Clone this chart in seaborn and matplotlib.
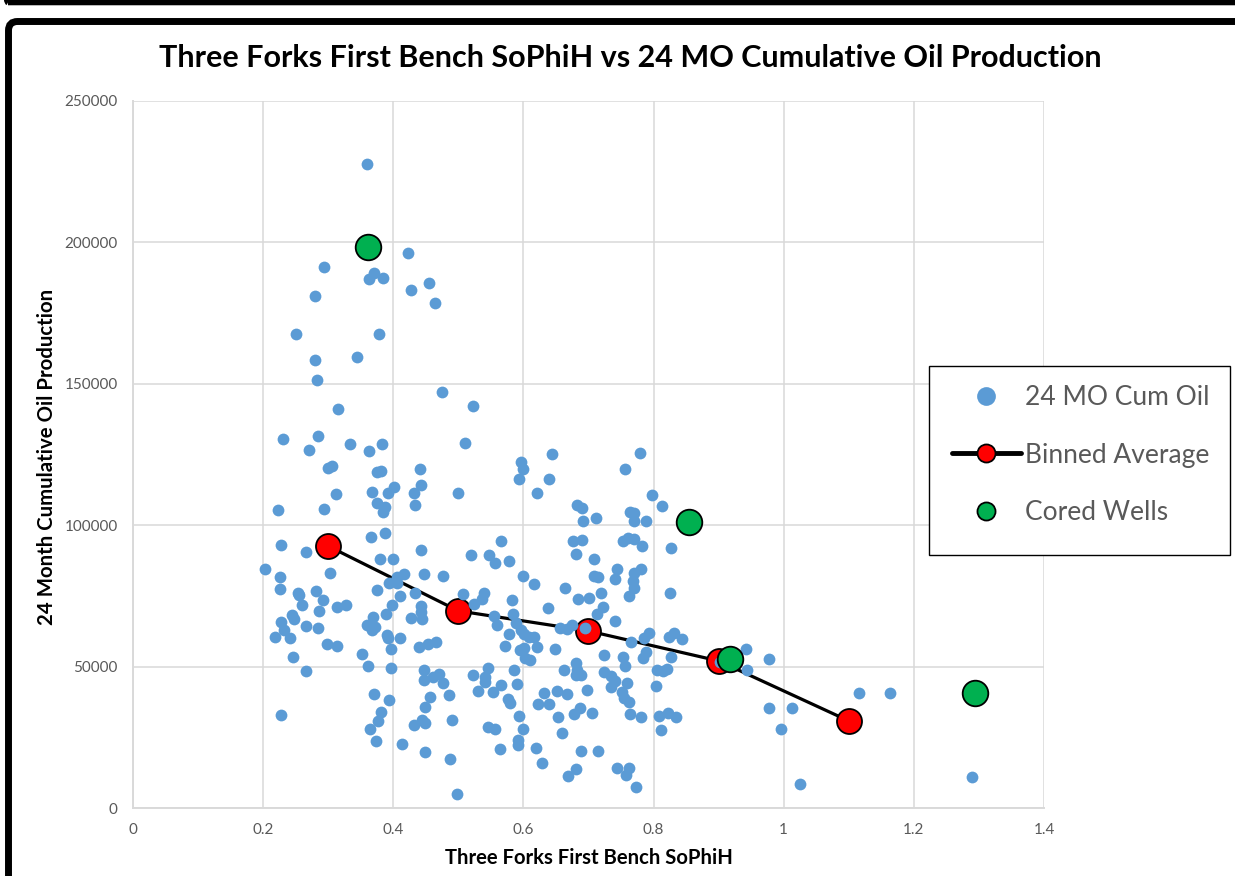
import matplotlib
matplotlib.use("Agg")
import matplotlib.pyplot as plt
import matplotlib.ticker as mticker
from matplotlib.lines import Line2D
from matplotlib.patches import FancyBboxPatch, Rectangle
from matplotlib.transforms import IdentityTransform
import seaborn as sns
import pandas as pd

# Individual wells: First Bench SoPhiH vs 24-month cumulative oil (bbl)
sophih = [
    0.360, 0.294, 0.370, 0.363, 0.384, 0.423, 0.427, 0.455, 0.464, 0.280,
    0.251, 0.378, 0.280, 0.344, 0.283, 0.475, 0.315, 0.231, 0.284, 0.271,
    0.334, 0.363, 0.383, 0.300, 0.306, 0.375, 0.381, 0.441, 0.523, 0.510,
    0.596, 0.600, 0.644, 0.779, 0.756, 0.593, 0.640, 0.401, 0.367, 0.392,
    0.443, 0.432, 0.312, 0.223, 0.294, 0.375, 0.387, 0.384, 0.434, 0.366,
    0.387, 0.443, 0.228, 0.266, 0.203, 0.303, 0.380, 0.400, 0.226, 0.226,
    0.254, 0.255, 0.281, 0.292, 0.260, 0.286, 0.314, 0.327, 0.375, 0.394,
    0.406, 0.417, 0.406, 0.410, 0.398, 0.447, 0.477, 0.434, 0.443, 0.443,
    0.444, 0.427, 0.389, 0.369, 0.360, 0.372, 0.367, 0.244, 0.248, 0.228,
    0.232, 0.218, 0.241, 0.266, 0.284, 0.298, 0.314, 0.390, 0.392, 0.410,
    0.397, 0.440, 0.453, 0.466, 0.246, 0.352, 0.361, 0.397, 0.266, 0.447,
    0.447, 0.461, 0.470, 0.477, 0.370, 0.394, 0.457, 0.449, 0.381, 0.377,
    0.364, 0.374, 0.228, 0.414, 0.432, 0.444, 0.449, 0.449, 0.500, 0.621,
    0.798, 0.813, 0.683, 0.690, 0.692, 0.712, 0.764, 0.770, 0.770, 0.789,
    0.566, 0.520, 0.547, 0.557, 0.578, 0.676, 0.690, 0.681, 0.709, 0.753,
    0.761, 0.770, 0.782, 0.827, 0.600, 0.616, 0.709, 0.715, 0.744, 0.741,
    0.770, 0.781, 0.769, 0.770, 0.762, 0.664, 0.684, 0.701, 0.719, 0.826,
    0.507, 0.540, 0.537, 0.524, 0.583, 0.638, 0.723, 0.713, 0.741, 0.555,
    0.560, 0.584, 0.589, 0.578, 0.572, 0.596, 0.601, 0.609, 0.616, 0.595,
    0.601, 0.621, 0.603, 0.610, 0.649, 0.656, 0.667, 0.675, 0.695, 0.724,
    0.753, 0.756, 0.766, 0.786, 0.793, 0.789, 0.784, 0.827, 0.824, 0.832,
    0.844, 0.486, 0.523, 0.546, 0.541, 0.541, 0.530, 0.553, 0.566, 0.586,
    0.590, 0.576, 0.580, 0.593, 0.663, 0.681, 0.683, 0.681, 0.689, 0.632,
    0.652, 0.667, 0.698, 0.623, 0.640, 0.653, 0.678, 0.687, 0.706, 0.724,
    0.735, 0.741, 0.735, 0.759, 0.752, 0.755, 0.762, 0.764, 0.781, 0.804,
    0.806, 0.815, 0.821, 0.809, 0.822, 0.835, 0.812, 0.490, 0.546, 0.557,
    0.600, 0.592, 0.592, 0.564, 0.620, 0.660, 0.629, 0.689, 0.715, 0.487,
    0.669, 0.681, 0.744, 0.762, 0.758, 0.773, 0.498, 0.942, 0.944, 0.978,
    0.978, 1.013, 0.996, 1.025, 1.115, 1.164, 1.290, 0.902,
]
cum_oil = [
    227700, 191300, 189200, 187100, 187400, 196200, 183200, 185600, 178600, 181000,
    167600, 167600, 158400, 159500, 151300, 147100, 141100, 130500, 131500, 126600,
    128700, 126200, 128700, 120200, 120900, 118800, 119200, 119900, 142100, 129100,
    122300, 119900, 125200, 125500, 119900, 116300, 116300, 113500, 111700, 111400,
    114200, 111400, 111000, 105400, 105700, 107800, 106400, 104700, 107100, 95800,
    97200, 91200, 93000, 90500, 84500, 83100, 88000, 88000, 81700, 77400,
    76000, 75300, 76700, 73500, 71800, 69700, 71100, 71800, 77100, 79600,
    81700, 82700, 79600, 75000, 71800, 82700, 82000, 76000, 71400, 69300,
    66800, 67200, 68600, 67500, 64700, 64000, 62900, 68200, 66800, 65800,
    62900, 60500, 60100, 64400, 63600, 58000, 57300, 61200, 60100, 60100,
    56200, 56900, 58000, 58700, 53400, 54500, 50200, 49500, 48400, 48800,
    45300, 46300, 47400, 44200, 40300, 38200, 39200, 35700, 33900, 30800,
    27900, 23700, 32900, 22600, 29300, 31100, 30100, 19800, 111400, 111400,
    110700, 106800, 107100, 106100, 101500, 102500, 104700, 104300, 101500, 101500,
    94400, 89500, 89500, 86600, 87300, 94400, 94800, 89800, 88000, 94400,
    95500, 95100, 92600, 91900, 82000, 79200, 82000, 81700, 84500, 81000,
    83100, 84500, 80300, 77800, 75000, 77800, 73900, 74300, 76000, 76000,
    75700, 76000, 73900, 72100, 73500, 70700, 71100, 68600, 66100, 67900,
    64700, 68600, 65400, 61500, 57300, 62900, 61500, 60500, 60500, 55900,
    56600, 56900, 53000, 52300, 56200, 63600, 63300, 64700, 63600, 54100,
    53400, 50200, 58700, 60100, 61900, 55200, 53000, 53400, 60500, 61900,
    59800, 40000, 47000, 49500, 46300, 44600, 41400, 41000, 43500, 48800,
    43800, 38500, 37100, 32500, 48800, 51300, 48800, 47000, 47000, 40700,
    41400, 40300, 41700, 36800, 36800, 32200, 33200, 35400, 33600, 48100,
    46700, 44900, 42800, 44200, 41000, 38900, 37500, 33200, 32200, 43100,
    48800, 48400, 49200, 32500, 33600, 32200, 27600, 31100, 28600, 27900,
    27900, 24000, 22300, 20900, 21200, 26500, 15900, 20200, 20200, 17300,
    11300, 13800, 14100, 14100, 11700, 7400, 5000, 56200, 48800, 52700,
    35400, 35400, 27900, 8500, 40700, 40700, 11000, 51600,
]

# Binned averages
bin_sophih = [0.3, 0.5, 0.7, 0.9, 1.1]
bin_avg_oil = [92600, 69700, 62600, 52000, 30800]

# Cored wells
cored_sophih = [0.361, 0.855, 0.918, 1.294]
cored_oil = [198400, 101100, 52700, 40700]

wells = pd.DataFrame({"SoPhiH": sophih, "CumOil": cum_oil})
bins = pd.DataFrame({"SoPhiH": bin_sophih, "CumOil": bin_avg_oil})
cored = pd.DataFrame({"SoPhiH": cored_sophih, "CumOil": cored_oil})

sns.set_theme(style="white")
plt.rcParams["font.family"] = ["Lato", "DejaVu Sans"]

W, H = 1235, 876
fig = plt.figure(figsize=(W / 100, H / 100), dpi=100)
ax = fig.add_axes([133 / W, 1 - 808 / H, (1044 - 133) / W, (808 - 101) / H])

BLUE = "#5B9BD5"
RED = "#FF0000"
GREEN = "#00B050"
GRID = "#D9D9D9"
TICK = "#595959"

sns.lineplot(data=bins, x="SoPhiH", y="CumOil", ax=ax, color="black",
             linewidth=2.3, marker="o", markersize=18, markerfacecolor=RED,
             markeredgecolor="black", markeredgewidth=1.3, zorder=3,
             legend=False)
sns.scatterplot(data=wells, x="SoPhiH", y="CumOil", ax=ax, color=BLUE,
                s=72, linewidth=0, zorder=4, legend=False)
sns.scatterplot(data=cored, x="SoPhiH", y="CumOil", ax=ax, color=GREEN,
                s=340, edgecolor="black", linewidth=1.3, zorder=5,
                legend=False)

ax.set_xlim(0, 1.4)
ax.set_ylim(0, 250000)
ax.xaxis.set_major_locator(mticker.MultipleLocator(0.2))
ax.yaxis.set_major_locator(mticker.MultipleLocator(50000))
ax.xaxis.set_major_formatter(mticker.FuncFormatter(lambda v, p: f"{v:g}"))
ax.yaxis.set_major_formatter(mticker.FuncFormatter(lambda v, p: f"{v:.0f}"))
ax.grid(True, color=GRID, linewidth=1.1)
ax.set_axisbelow(True)
for side in ["top", "right"]:
    ax.spines[side].set_visible(False)
for side in ["left", "bottom"]:
    ax.spines[side].set_color(GRID)
    ax.spines[side].set_linewidth(1.4)
ax.tick_params(axis="both", length=0, labelsize=11, labelcolor=TICK)
ax.tick_params(axis="y", pad=11)
ax.tick_params(axis="x", pad=11)
ax.set_xlabel("")
ax.set_ylabel("")

fig.text(630 / W, 1 - 58 / H,
         "Three Forks First Bench SoPhiH vs 24 MO Cumulative Oil Production",
         ha="center", va="center", fontsize=22, fontweight="bold",
         color="black")
fig.text(47 / W, 1 - 457 / H, "24 Month Cumulative Oil Production",
         rotation=90, ha="center", va="center", fontsize=14.7,
         fontweight="bold", color="black")
fig.text(589 / W, 1 - 858 / H, "Three Forks First Bench SoPhiH",
         ha="center", va="center", fontsize=14.6, fontweight="bold",
         color="black")

# Legend box and entries
fig.add_artist(Rectangle((929, H - 555), 1230 - 929, 555 - 366,
                         transform=IdentityTransform(), facecolor="white",
                         edgecolor="black", linewidth=1.0, zorder=10))
handles = [
    Line2D([], [], linestyle="none", marker="o", markersize=13.5,
           markerfacecolor=BLUE, markeredgewidth=0),
    Line2D([], [], color="black", linewidth=3.5, marker="o", markersize=13,
           markerfacecolor=RED, markeredgecolor="black", markeredgewidth=1.3),
    Line2D([], [], linestyle="none", marker="o", markersize=13,
           markerfacecolor=GREEN, markeredgecolor="black", markeredgewidth=1.3),
]
labels = ["24 MO Cum Oil", "Binned Average", "Cored Wells"]
leg = fig.legend(handles, labels, loc="center left",
                 bbox_to_anchor=(952 / W, 1 - 455 / H), frameon=False,
                 fontsize=19, handlelength=2.6, handletextpad=0.15,
                 labelspacing=1.24, borderpad=0, borderaxespad=0)
for t in leg.get_texts():
    t.set_color(TICK)
leg.set_zorder(11)

# Surrounding black frames
fig.add_artist(FancyBboxPatch((8.5, -100), 1500, 854.5 + 100,
                              boxstyle="round,pad=0,rounding_size=9",
                              transform=IdentityTransform(), facecolor="none",
                              edgecolor="black", linewidth=5.0, zorder=20))
fig.add_artist(FancyBboxPatch((2.0, H - 2.5), 1500, 200,
                              boxstyle="round,pad=0,rounding_size=6",
                              transform=IdentityTransform(), facecolor="none",
                              edgecolor="black", linewidth=4.0, zorder=20))

fig.savefig("out.png", dpi=100)
